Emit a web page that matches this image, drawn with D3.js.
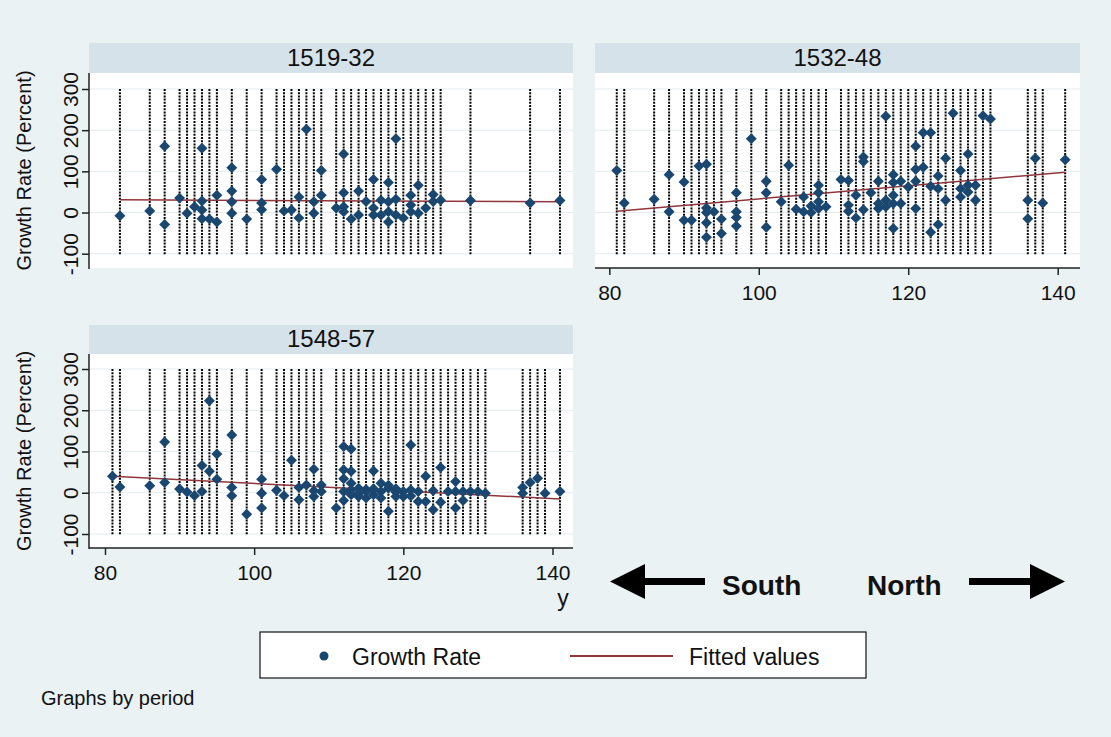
<!DOCTYPE html>
<html>
<head>
<meta charset="utf-8">
<script src="https://cdn.jsdelivr.net/npm/d3@7"></script>
<style>
    body { margin: 0; background: #eaf2f3; }
    svg text { font-family: "Liberation Sans", Arial, sans-serif; fill: #111; }
</style>
</head>
<body>
<div id="chart"></div>
<script>
var periods = ["1519-32", "1532-48", "1548-57"];
var yTicks = [-100, 0, 100, 200, 300];
var xTicks = [80, 100, 120, 140];

// 1519-32
var lat1 = [82, 86, 88, 88, 90, 91, 92, 93, 93, 93, 93, 94, 95, 95, 97, 97, 97, 97, 99, 101, 101, 101, 103, 104, 105, 106, 106, 107, 108, 108, 109, 109,
    111, 112, 112, 112, 112, 113, 114, 114, 115, 116, 116, 116, 117, 117, 118, 118, 118, 118, 119, 119, 119, 120, 121, 121, 121, 122, 122, 123, 124, 124, 125, 129, 137, 141];
var growth1 = [-8, 4, 161, -29, 35, -2, 14, 156, 28, 6, -15, -16, 42, -23, 109, 52, 26, -2, -16, 80, 23, 7, 105, 4, 6, 38, -13, 202, 26, -2, 102, 42,
    11, 142, 48, 14, 2, -16, 52, -6, 27, 80, 11, -6, 30, -6, 73, 26, 2, -23, 179, 32, -6, -13, 42, 18, 2, 66, -2, 11, 44, 27, 30, 29, 23, 29];
var fitLat1 = [82, 141];
var fitGrowth1 = [31, 26];

// 1532-48
var lat2 = [81, 82, 86, 88, 88, 90, 90, 91, 92, 93, 93, 93, 93, 93, 94, 95, 95, 97, 97, 97, 97, 99, 101, 101, 101, 103, 104, 105, 106, 106, 107, 107,
    108, 108, 108, 108, 109, 111, 112, 112, 112, 113, 113, 114, 114, 114, 115, 116, 116, 116, 117, 117, 117, 118, 118, 118, 118, 118, 119, 119, 120,
    121, 121, 121, 121, 122, 122, 123, 123, 123, 124, 124, 124, 125, 125, 126, 127, 127, 127, 128, 128, 128, 129, 129, 130, 131, 136, 136, 137, 138, 141];
var growth2 = [102, 23, 32, 92, 2, 74, -19, -19, 113, 117, 11, 0, -25, -60, 2, -16, -51, 48, 2, -12, -33, 179, 76, 48, -36, 26, 115, 8, 38, 2, 16, 0,
    66, 48, 26, 10, 14, 80, 78, 18, 3, 42, -13, 135, 124, 7, 48, 76, 22, 10, 234, 30, 14, 92, 73, 42, 22, -39, 76, 22, 62,
    161, 105, 76, 10, 194, 110, 194, 64, -48, 89, 58, -29, 132, 30, 241, 102, 58, 38, 142, 66, 50, 66, 30, 235, 227, 30, -15, 132, 23, 128];
var fitLat2 = [81, 141];
var fitGrowth2 = [3, 98];

// 1548-57
var lat3 = [81, 82, 86, 88, 88, 90, 91, 92, 93, 93, 94, 94, 95, 95, 97, 97, 97, 99, 101, 101, 101, 103, 104, 105, 106, 106, 107, 108, 108, 108, 109, 109,
    111, 112, 112, 112, 112, 112, 113, 113, 113, 113, 113, 114, 114, 114, 115, 115, 115, 116, 116, 116, 117, 117, 117, 118, 118, 118, 119, 119, 119,
    120, 120, 121, 121, 121, 122, 122, 123, 123, 124, 124, 125, 125, 126, 127, 127, 127, 128, 128, 129, 130, 131, 136, 136, 137, 138, 139, 141];
var growth3 = [40, 14, 17, 123, 25, 9, 2, -7, 66, 3, 223, 52, 94, 33, 140, 13, -7, -52, 33, -1, -37, 6, -7, 79, 13, -17, 19, 57, 5, -9, 19, 3,
    -37, 112, 56, 34, 3, -19, 106, 52, 23, 7, -5, 11, -9, -2, 3, -13, 8, 53, -5, 10, 23, 3, -13, 11, -45, 18, 2, -9, 10,
    3, -9, 116, 7, -8, 3, -21, 40, -21, 5, -41, 61, -23, 3, 27, 3, -37, 3, -19, 3, 3, -1, 13, -1, 25, 35, -1, 3];
var fitLat3 = [81, 141];
var fitGrowth3 = [40, -15];

var navy = "#1a476f";
var maroon = "#90353b";

Panel = function(_svg, _title, _lat, _growth, _fitLat, _fitGrowth, _box, _showY, _showX) {
    var vis = this;

    this.svg = _svg;
    this.title = _title;
    this.lat = _lat;
    this.growth = _growth;
    this.fitLat = _fitLat;
    this.fitGrowth = _fitGrowth;
    this.box = _box;
    this.showY = _showY;
    this.showX = _showX;

    this.initVis();
};

Panel.prototype.initVis = function() {
    var vis = this;
    var b = vis.box;

    vis.x = d3.scaleLinear().domain([80, 140]).range(b.xRange);
    vis.y = d3.scaleLinear().domain([-100, 300]).range(b.yRange);
    vis.plotTop = b.top + b.stripH;

    vis.g = vis.svg.append("g");

    // strip with period title
    vis.g.append("rect")
        .attr("x", b.left).attr("y", b.top)
        .attr("width", b.right - b.left).attr("height", b.stripH)
        .attr("fill", "#d6e2ea");
    vis.g.append("text")
        .attr("x", (b.left + b.right) / 2)
        .attr("y", b.top + b.stripH - 7)
        .attr("text-anchor", "middle")
        .attr("font-size", 24)
        .text(vis.title);

    // plot region
    vis.g.append("rect")
        .attr("x", b.left).attr("y", vis.plotTop)
        .attr("width", b.right - b.left).attr("height", b.bottom - vis.plotTop)
        .attr("fill", "#fff");

    vis.g.selectAll(".grid")
        .data(yTicks)
        .enter().append("line")
        .attr("class", "grid")
        .attr("x1", b.left).attr("x2", b.right)
        .attr("y1", function(d) { return vis.y(d); })
        .attr("y2", function(d) { return vis.y(d); })
        .attr("stroke", "#e3ebee")
        .attr("stroke-width", 1);

    vis.updateVis();
    vis.drawAxes();
};

Panel.prototype.updateVis = function() {
    var vis = this;

    // one dotted line per city latitude
    var uniq = Array.from(new Set(vis.lat));
    vis.g.selectAll(".cityLine")
        .data(uniq)
        .enter().append("line")
        .attr("class", "cityLine")
        .attr("x1", function(d) { return vis.x(d); })
        .attr("x2", function(d) { return vis.x(d); })
        .attr("y1", vis.y(300))
        .attr("y2", vis.y(-100) + 1)
        .attr("stroke", "#000")
        .attr("stroke-width", 2)
        .attr("stroke-dasharray", "2,1.2");

    var fit = d3.zip(vis.fitLat, vis.fitGrowth);
    vis.g.append("path")
        .attr("d", d3.line()
            .x(function(d) { return vis.x(d[0]); })
            .y(function(d) { return vis.y(d[1]); })(fit))
        .attr("fill", "none")
        .attr("stroke", maroon)
        .attr("stroke-width", 1.5);

    var pts = vis.lat.map(function(d, i) { return { lat: d, g: vis.growth[i] }; });
    vis.g.selectAll(".pt")
        .data(pts)
        .enter().append("path")
        .attr("class", "pt")
        .attr("d", d3.symbol().type(d3.symbolSquare).size(60))
        .attr("transform", function(d) {
            return "translate(" + vis.x(d.lat) + "," + vis.y(d.g) + ") rotate(45)";
        })
        .attr("fill", navy);
};

Panel.prototype.drawAxes = function() {
    var vis = this;
    var b = vis.box;

    if (vis.showY) {
        vis.g.append("line")
            .attr("x1", b.left).attr("x2", b.left)
            .attr("y1", vis.plotTop).attr("y2", b.bottom + 1)
            .attr("stroke", "#222").attr("stroke-width", 1.5);

        var yAxisGroup = vis.g.append("g")
            .attr("transform", "translate(" + b.left + ",0)")
            .call(d3.axisLeft(vis.y).tickValues(yTicks).tickSize(7).tickSizeOuter(0)
                .tickFormat(function(d) { return String(d); }));
        yAxisGroup.select(".domain").remove();
        yAxisGroup.selectAll("line").attr("stroke", "#222").attr("stroke-width", 1.5);
        yAxisGroup.selectAll("text")
            .attr("x", null).attr("dy", null)
            .attr("text-anchor", "middle")
            .attr("font-family", null)
            .attr("font-size", 21)
            .attr("transform", "translate(-11,0) rotate(-90)");

        vis.g.append("text")
            .attr("transform", "translate(31," + ((vis.plotTop + b.bottom) / 2) + ") rotate(-90)")
            .attr("text-anchor", "middle")
            .attr("font-size", 20)
            .text("Growth Rate (Percent)");
    }

    if (vis.showX) {
        vis.g.append("line")
            .attr("x1", b.left).attr("x2", b.right)
            .attr("y1", b.bottom).attr("y2", b.bottom)
            .attr("stroke", "#222").attr("stroke-width", 1.5);

        var xAxisGroup = vis.g.append("g")
            .attr("transform", "translate(0," + b.bottom + ")")
            .call(d3.axisBottom(vis.x).tickValues(xTicks).tickSize(7).tickSizeOuter(0));
        xAxisGroup.select(".domain").remove();
        xAxisGroup.selectAll("line").attr("stroke", "#222").attr("stroke-width", 1.5);
        xAxisGroup.selectAll("text")
            .attr("y", 17)
            .attr("font-family", null)
            .attr("font-size", 21);
    }
};

var svg = d3.select("#chart").append("svg")
    .attr("width", 1111)
    .attr("height", 737);

svg.append("rect")
    .attr("width", 1111).attr("height", 737)
    .attr("fill", "#eaf2f3");

var row1 = { top: 43, stripH: 30, bottom: 268, yRange: [253.7, 89] };
var row2 = { top: 325, stripH: 29, bottom: 548, yRange: [534, 369] };
var col1 = { left: 89, right: 573, xRange: [105, 552.5] };
var col2 = { left: 595, right: 1080, xRange: [609.3, 1057.7] };

function box(r, c) { return Object.assign({}, r, c); }

new Panel(svg, periods[0], lat1, growth1, fitLat1, fitGrowth1, box(row1, col1), true, false);
new Panel(svg, periods[1], lat2, growth2, fitLat2, fitGrowth2, box(row1, col2), false, true);
new Panel(svg, periods[2], lat3, growth3, fitLat3, fitGrowth3, box(row2, col1), true, true);

// x axis title
svg.append("text")
    .attr("x", 563).attr("y", 606)
    .attr("text-anchor", "middle")
    .attr("font-size", 23)
    .text("y");

// legend
var legend = svg.append("g");
legend.append("rect")
    .attr("x", 260).attr("y", 632)
    .attr("width", 606).attr("height", 46)
    .attr("fill", "#fff")
    .attr("stroke", "#111")
    .attr("stroke-width", 1.2);
legend.append("circle")
    .attr("cx", 324).attr("cy", 656).attr("r", 4.5)
    .attr("fill", navy);
legend.append("text")
    .attr("x", 352).attr("y", 665)
    .attr("font-size", 23)
    .text("Growth Rate");
legend.append("line")
    .attr("x1", 570).attr("x2", 673)
    .attr("y1", 656).attr("y2", 656)
    .attr("stroke", maroon).attr("stroke-width", 2);
legend.append("text")
    .attr("x", 689).attr("y", 665)
    .attr("font-size", 23)
    .text("Fitted values");

svg.append("text")
    .attr("x", 41).attr("y", 705)
    .attr("font-size", 20)
    .text("Graphs by period");

// South / North arrows
var arrows = svg.append("g").attr("fill", "#000");
arrows.append("path")
    .attr("d", "M610,581.5 L645,564 L645,578 L705,578 L705,585 L645,585 L645,599 Z");
arrows.append("path")
    .attr("d", "M1065,581.5 L1030,564 L1030,578 L969,578 L969,585 L1030,585 L1030,599 Z");
arrows.append("text")
    .attr("x", 722).attr("y", 595)
    .attr("font-size", 28).attr("font-weight", "bold")
    .attr("fill", "#000")
    .text("South");
arrows.append("text")
    .attr("x", 867).attr("y", 595)
    .attr("font-size", 28).attr("font-weight", "bold")
    .attr("fill", "#000")
    .text("North");
</script>
</body>
</html>
